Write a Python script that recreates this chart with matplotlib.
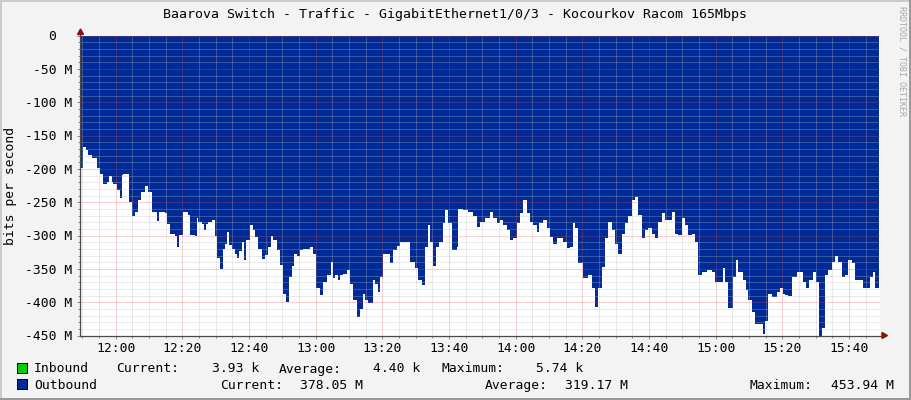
import numpy as np
import matplotlib.pyplot as plt
from matplotlib.ticker import MultipleLocator
from matplotlib.transforms import ScaledTranslation, IdentityTransform
from matplotlib.patches import Rectangle, Polygon

W, H = 911, 400
DPI = 100

# outbound traffic
# t_min = start of each step in minutes after 12:00, out_M = Mbit/s
t_min = [-10.4, -9.9, -9.0, -8.2, -7.2, -5.7, -4.7, -3.7, -2.7, -1.9, -1.2, -0.7,
         0.3, 1.3, 1.8, 2.3, 4.1, 4.8, 5.8, 6.8, 7.5, 8.8, 9.8, 10.8, 12.3, 13.1,
         14.8, 15.5, 16.3, 17.8, 18.5, 19.1, 20.3, 21.8, 22.3, 23.8, 24.3, 24.8,
         25.8, 26.5, 27.1, 27.8, 28.8, 29.8, 30.5, 31.3, 32.1, 32.8, 33.3, 34.1,
         34.8, 35.8, 36.3, 37.0, 37.8, 38.5, 39.1, 40.3, 41.1, 41.8, 42.8, 43.8,
         44.8, 45.8, 46.6, 47.3, 48.3, 49.3, 50.1, 51.1, 52.1, 52.8, 53.5, 54.3,
         55.3, 56.3, 58.3, 59.3,
         60.1, 61.3, 62.1, 63.3, 64.5, 65.1, 65.8, 66.8, 67.3, 68.1, 69.3, 70.3,
         71.3, 72.5, 73.3, 74.1, 74.8, 75.8, 77.1, 77.8, 78.8, 79.3, 80.1, 82.3,
         83.3, 84.3, 85.3, 88.3, 89.8, 90.8, 91.8, 92.8, 93.8, 94.3, 95.3, 96.1,
         97.1, 98.1, 98.8, 99.8, 100.8, 102.3, 102.8, 104.3, 105.8, 107.3, 108.3,
         109.3, 110.8, 112.3, 113.3, 114.3, 115.3, 116.3, 117.3, 118.3, 119.3,
         120.3, 121.3, 122.3, 123.3, 124.3, 125.3, 126.3, 127.1, 128.1, 129.3,
         130.3, 131.3, 132.3, 134.3, 135.3, 136.3, 137.1, 137.8, 138.8,
         140.3, 141.8, 142.8, 143.8, 144.8, 145.8, 146.8, 147.8, 148.8, 149.8,
         150.8, 151.8, 152.8, 153.8, 154.8, 155.8, 156.8, 157.8, 158.8, 159.8,
         160.8, 161.8, 162.8, 163.8, 164.8, 166.8, 167.8, 168.8, 169.8, 170.8,
         171.8, 172.8, 173.8, 174.8, 175.8, 177.3, 178.8, 179.8, 182.1, 182.8,
         183.8, 185.1, 186.1, 186.8, 188.1, 189.1, 189.8, 190.8, 191.8, 194.1,
         194.8, 195.8, 196.8, 198.3, 199.3, 200.1, 200.8, 201.8, 202.8, 204.3,
         206.1, 207.1, 208.1, 209.1, 210.1, 211.1, 211.8, 212.8, 213.8, 214.8,
         215.8, 216.8, 217.8, 218.8, 219.8, 220.8, 221.8, 224.1, 226.3, 227.3,
         227.8]
out_M = [199, 167, 172, 179, 184, 198, 207, 222, 220, 211, 220, 222,
         231, 244, 209, 207, 249, 271, 264, 246, 235, 226, 234, 264, 278, 264,
         266, 283, 298, 301, 317, 299, 265, 269, 299, 301, 273, 279,
         282, 292, 283, 279, 277, 301, 334, 350, 320, 312, 294, 314,
         320, 327, 334, 323, 309, 337, 307, 284, 292, 302, 320, 335,
         329, 317, 301, 307, 322, 344, 387, 399, 362, 346, 327, 330,
         322, 320, 317, 327,
         379, 389, 369, 359, 339, 364, 359, 367, 359, 357, 352, 372,
         397, 422, 410, 387, 397, 401, 367, 372, 384, 362, 327, 341,
         322, 315, 310, 339, 349, 367, 374, 317, 284, 310, 345, 317,
         310, 281, 261, 281, 322, 317, 260, 262, 264, 271, 287,
         279, 274, 264, 274, 281, 276, 284, 292, 307, 304,
         281, 266, 246, 266, 279, 284, 294, 281, 276, 289,
         302, 312, 304, 310, 319, 317, 281, 289, 341,
         363, 359, 378, 407, 379, 347, 304, 279, 292, 312,
         327, 297, 281, 271, 246, 242, 269, 304, 292, 289,
         297, 304, 279, 266, 276, 264, 297, 299, 274, 284,
         299, 297, 310, 359, 354, 352, 354, 369, 349, 369,
         408, 362, 336, 354, 367, 382, 397, 414, 433, 447,
         428, 387, 392, 384, 379, 387, 389, 391, 362, 354,
         369, 379, 367, 354, 369, 453.94, 439, 359, 352, 339,
         330, 339, 362, 359, 336, 341, 367, 378, 362, 354,
         378.05]
t_end = 229.0

time_ticks = [0, 20, 40, 60, 80, 100, 120, 140, 160, 180, 200, 220]
time_labels = ["12:00", "12:20", "12:40", "13:00", "13:20", "13:40", "14:00",
               "14:20", "14:40", "15:00", "15:20", "15:40"]
y_ticks = [0, -50, -100, -150, -200, -250, -300, -350, -400, -450]
y_labels = ["0", "-50 M", "-100 M", "-150 M", "-200 M", "-250 M", "-300 M",
            "-350 M", "-400 M", "-450 M"]

title = "Baarova Switch - Traffic - GigabitEthernet1/0/3 - Kocourkov Racom 165Mbps"
in_stats = ["3.93 k", "4.40 k", "5.74 k"]
out_stats = ["378.05 M", "319.17 M", "453.94 M"]

BG = "#F3F3F3"
BLUE = "#002A97"
GREEN = "#00CF00"
AXIS = "#4A4A4A"
ARROW = "#8B1010"
FS = 9.4

plt.rcParams["font.family"] = ["DejaVu Sans Mono"]
fig = plt.figure(figsize=(W / DPI, H / DPI), dpi=DPI, facecolor=BG)


def fx(x):
    return x / W


def fy(y):
    return 1 - y / H


def pix(x, y):
    # pixel coords (origin top-left) -> display coords
    return (x, H - y)


# plot area: 800 x 300 px
ax = fig.add_axes([fx(80), fy(335.5), 800 / W, 300 / H])
ax.set_facecolor("white")

x = np.append(t_min, t_end)
y = -np.append(out_M, out_M[-1])
ax.fill_between(x, 0, y, step="post", color=BLUE, lw=0, zorder=1)

ax.set_xlim(-10.7, 229.3)
ax.set_ylim(-450, 0)

ax.set_xticks(time_ticks, time_labels)
ax.set_yticks(y_ticks, y_labels)
ax.xaxis.set_minor_locator(MultipleLocator(5))
ax.yaxis.set_minor_locator(MultipleLocator(10))

ax.set_axisbelow(False)
ax.grid(which="minor", color="#BABABA", alpha=0.6, lw=0.72, ls=(0, (1, 1)))
ax.grid(which="major", color="#E05050", alpha=0.55, lw=0.72, ls=(0, (1, 1)))

for s in ax.spines.values():
    s.set_visible(False)

ax.tick_params(which="both", direction="out", color="#8A8A8A", width=0.72,
               labelsize=FS, labelcolor="black")
ax.tick_params(which="major", length=2.2)
ax.tick_params(which="minor", length=1.5)
ax.tick_params(axis="x", pad=2.5)
ax.tick_params(axis="y", pad=3.6)

# "0" label sits two columns further left in rrdtool
lab0 = ax.get_yticklabels()[0]
lab0.set_transform(lab0.get_transform() + ScaledTranslation(-16 / DPI, 0, fig.dpi_scale_trans))

# axis lines with arrows
ax.plot([0, 0], [0, 1 + 4 / 300], color=AXIS, lw=0.9, transform=ax.transAxes,
        clip_on=False, zorder=3)
ax.plot([0, 1 + 3 / 800], [0, 0], color=AXIS, lw=0.9, transform=ax.transAxes,
        clip_on=False, zorder=3)
fig.add_artist(Polygon([pix(77.5, 34.5), pix(83.5, 34.5), pix(80.5, 29)],
                       closed=True, color=ARROW, transform=IdentityTransform()))
fig.add_artist(Polygon([pix(882, 332.5), pix(882, 338.5), pix(887.5, 335.5)],
                       closed=True, color=ARROW, transform=IdentityTransform()))

# title and axis label
fig.text(fx(455), fy(14.5), title, ha="center", va="center", fontsize=9.5)
fig.text(fx(11), fy(186), "bits per second", rotation=90, ha="center",
         va="center", fontsize=FS)
fig.text(fx(902), fy(61), "RRDTOOL / TOBI OETIKER", rotation=270, ha="center",
         va="center", fontsize=6, color="#A8A8A8")

# legend
fig.add_artist(Rectangle(pix(17, 372.7), 10, 10, facecolor=GREEN, edgecolor="black",
                         lw=0.72, transform=IdentityTransform()))
fig.add_artist(Rectangle(pix(17, 389.3), 10, 10, facecolor=BLUE, edgecolor="black",
                         lw=0.72, transform=IdentityTransform()))

yb1, yb2 = fy(372.5), fy(389)
fig.text(fx(34), yb1, "Inbound", fontsize=FS, va="baseline")
fig.text(fx(116), yb1, "Current:", fontsize=FS, va="baseline")
fig.text(fx(259), yb1, in_stats[0], fontsize=FS, va="baseline", ha="right")
fig.text(fx(279), yb1, "Average:", fontsize=FS, va="baseline")
fig.text(fx(420), yb1, in_stats[1], fontsize=FS, va="baseline", ha="right")
fig.text(fx(441), yb1, "Maximum:", fontsize=FS, va="baseline")
fig.text(fx(583), yb1, in_stats[2], fontsize=FS, va="baseline", ha="right")

fig.text(fx(34), yb2, "Outbound", fontsize=FS, va="baseline")
fig.text(fx(220), yb2, "Current:", fontsize=FS, va="baseline")
fig.text(fx(363), yb2, out_stats[0], fontsize=FS, va="baseline", ha="right")
fig.text(fx(485), yb2, "Average:", fontsize=FS, va="baseline")
fig.text(fx(628), yb2, out_stats[1], fontsize=FS, va="baseline", ha="right")
fig.text(fx(750), yb2, "Maximum:", fontsize=FS, va="baseline")
fig.text(fx(894), yb2, out_stats[2], fontsize=FS, va="baseline", ha="right")

# 3d frame
for rect, col in [((0, 0, W, 2), "#CBCBCB"), ((0, 0, 2, H), "#CBCBCB"),
                  ((W - 2, 0, 2, H), "#999999"), ((0, H - 2, W, 2), "#999999")]:
    x0, y0, w, h = rect
    fig.add_artist(Rectangle((x0, H - y0 - h), w, h, facecolor=col, lw=0,
                             transform=IdentityTransform()))

fig.savefig("out.png", dpi=DPI, facecolor=BG)
